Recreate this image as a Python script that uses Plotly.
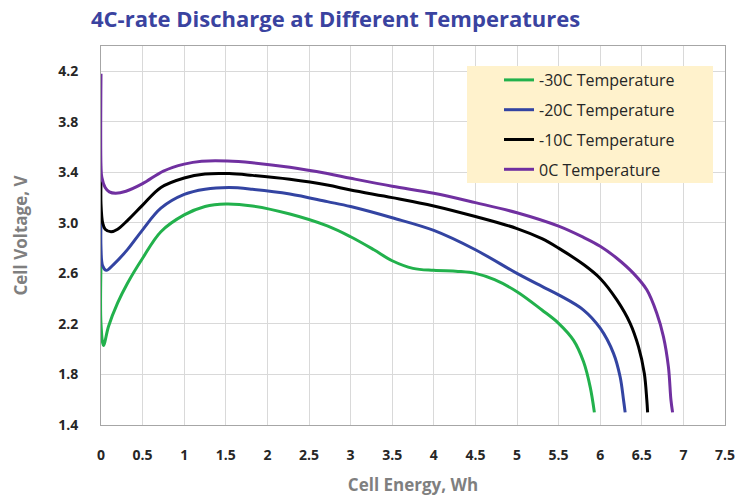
import plotly.graph_objects as go

# ---- data ----
series_names = ["-30C Temperature", "-20C Temperature", "-10C Temperature", "0C Temperature"]

energy_m30 = [0, 0, 0.03, 0.09, 0.2, 0.32, 0.5, 0.72, 1.0, 1.25, 1.5, 1.82, 2.27, 2.72, 3.0, 3.28, 3.5,
              3.75, 4.0, 4.29, 4.5, 4.73, 5.0, 5.3, 5.5, 5.68, 5.8, 5.88, 5.93]
volt_m30 = [2.67, 2.2, 2.03, 2.18, 2.366, 2.524, 2.72, 2.93, 3.063, 3.13, 3.15, 3.134, 3.07, 2.976, 2.89,
            2.787, 2.70, 2.64, 2.624, 2.616, 2.60, 2.55, 2.455, 2.31, 2.205, 2.07, 1.90, 1.70, 1.5]

energy_m20 = [0, 0, 0.02, 0.065, 0.15, 0.32, 0.5, 0.72, 1.0, 1.25, 1.54, 1.82, 2.27, 2.72, 3.0, 3.5, 4.0,
              4.5, 5.0, 5.3, 5.5, 5.8, 6.0, 6.16, 6.24, 6.28, 6.3]
volt_m20 = [3.02, 2.8, 2.66, 2.624, 2.67, 2.79, 2.945, 3.116, 3.225, 3.266, 3.279, 3.266, 3.229, 3.168,
            3.129, 3.04, 2.94, 2.787, 2.60, 2.497, 2.43, 2.31, 2.166, 1.967, 1.78, 1.6, 1.5]

energy_m10 = [0, 0, 0.02, 0.05, 0.12, 0.2, 0.32, 0.5, 0.72, 1.0, 1.25, 1.54, 1.82, 2.27, 2.72, 3.0, 3.5,
              4.0, 4.5, 5.0, 5.3, 5.5, 5.8, 6.0, 6.2, 6.36, 6.46, 6.53, 6.56, 6.57]
volt_m10 = [3.33, 3.15, 3.0, 2.95, 2.93, 2.95, 3.02, 3.14, 3.28, 3.355, 3.387, 3.39, 3.376, 3.345, 3.30,
            3.26, 3.2, 3.134, 3.05, 2.955, 2.875, 2.80, 2.67, 2.56, 2.39, 2.205, 2.02, 1.81, 1.6, 1.5]

energy_0 = [0, 0, 0.01, 0.05, 0.1, 0.175, 0.3, 0.5, 0.75, 1.0, 1.21, 1.52, 1.82, 2.27, 2.72, 3.0, 3.5, 4.0,
            4.5, 5.0, 5.5, 5.8, 6.0, 6.2, 6.4, 6.56, 6.68, 6.76, 6.82, 6.85, 6.87]
volt_0 = [4.18, 3.45, 3.36, 3.28, 3.245, 3.234, 3.25, 3.31, 3.41, 3.465, 3.488, 3.49, 3.476, 3.44, 3.39,
          3.353, 3.29, 3.234, 3.16, 3.08, 2.974, 2.885, 2.815, 2.72, 2.60, 2.47, 2.285, 2.10, 1.86, 1.6, 1.5]

x_ticks = [0, 0.5, 1, 1.5, 2, 2.5, 3, 3.5, 4, 4.5, 5, 5.5, 6, 6.5, 7, 7.5]
x_tick_labels = ["0", "0.5", "1", "1.5", "2", "2.5", "3", "3.5", "4", "4.5", "5", "5.5", "6", "6.5", "7", "7.5"]
y_ticks = [1.4, 1.8, 2.2, 2.6, 3.0, 3.4, 3.8, 4.2]
y_tick_labels = ["1.4", "1.8", "2.2", "2.6", "3.0", "3.4", "3.8", "4.2"]

colors = ["#22B14C", "#3344A2", "#000000", "#7030A0"]

W, H = 746, 502

fig = go.Figure()
for name, xs, ys, c in zip(series_names,
                           [energy_m30, energy_m20, energy_m10, energy_0],
                           [volt_m30, volt_m20, volt_m10, volt_0],
                           colors):
    fig.add_trace(go.Scatter(x=xs, y=ys, mode="lines", name=name, legendgroup=name,
                             line=dict(color=c, width=3, shape="spline", smoothing=1.0)))

fig.update_layout(
    width=W, height=H,
    margin=dict(l=101, r=W - 725, t=46, b=H - 425, autoexpand=False),
    paper_bgcolor="white", plot_bgcolor="white",
    font=dict(family="Open Sans", color="#262626"),
    title=dict(text="<b>4C-rate Discharge at Different Temperatures</b>",
               font=dict(family="Open Sans", size=22, color="#3A43A0"),
               x=91 / W, xanchor="left", y=1 - 19 / H, yanchor="middle"),
    legend=dict(x=(499 - 101) / 624, y=(425 - 63) / 379, xanchor="left", yanchor="top",
                bgcolor="rgba(0,0,0,0)", font=dict(size=16, color="#262626"),
                tracegroupgap=6, traceorder="grouped"),
    shapes=[dict(type="rect", xref="paper", yref="paper",
                 x0=(467 - 101) / 624, x1=(713 - 101) / 624,
                 y0=(425 - 183) / 379, y1=(425 - 66) / 379,
                 fillcolor="#FFF2CC", line=dict(width=0), layer="above")],
)

fig.update_xaxes(range=[0, 7.5], tickvals=x_ticks, ticktext=x_tick_labels,
                 showgrid=True, gridcolor="#D9D9D9", gridwidth=1,
                 showline=True, linecolor="#A6A6A6", linewidth=1, mirror=True,
                 ticks="", zeroline=False, ticklabelstandoff=17, automargin=False,
                 tickfont=dict(size=14, color="#262626", family="Open Sans", weight="bold"),
                 title=dict(text="<b>Cell Energy, Wh</b>", standoff=16,
                            font=dict(size=17, color="#7F7F7F", family="Open Sans")))
fig.update_yaxes(range=[1.4, 4.4], tickvals=y_ticks, ticktext=y_tick_labels,
                 showgrid=True, gridcolor="#D9D9D9", gridwidth=1,
                 showline=True, linecolor="#A6A6A6", linewidth=1, mirror=True,
                 ticks="", zeroline=False, ticklabelstandoff=19, automargin=False,
                 tickfont=dict(size=14, color="#262626", family="Open Sans", weight="bold"),
                 title=dict(text="<b>Cell Voltage, V</b>", standoff=26,
                            font=dict(size=17, color="#7F7F7F", family="Open Sans")))

# remove the default page margin so the figure sits at the window's top-left corner
fig.write_html("out.html", config={"displayModeBar": False},
               post_script="document.body.style.margin='0px';")
